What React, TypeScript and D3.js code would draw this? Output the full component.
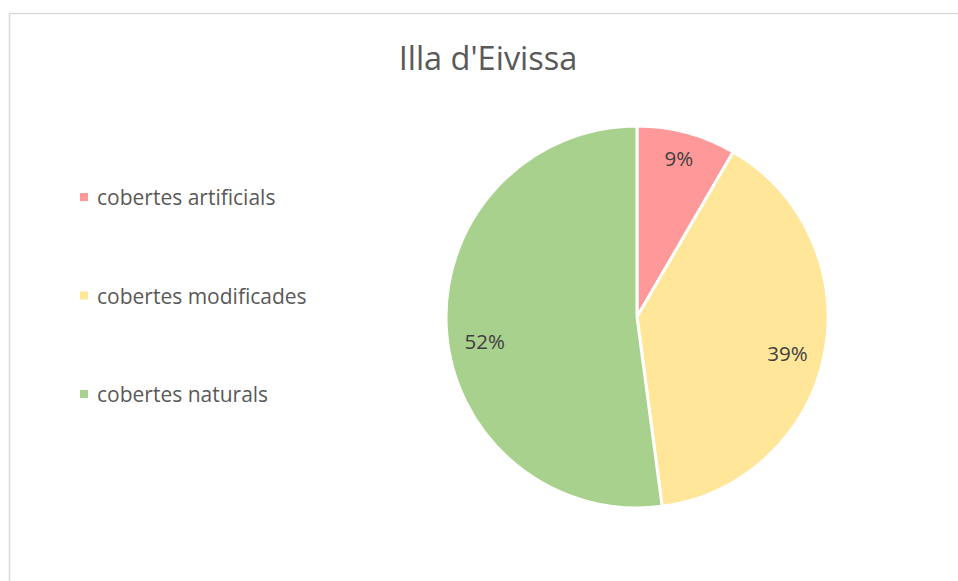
import React from "react";
import * as d3 from "d3";

const categories = ["cobertes artificials", "cobertes modificades", "cobertes naturals"];
const values = [8.4, 39.5, 52.1];
const labels = ["9%", "39%", "52%"];
const colors = ["#ff9999", "#ffe699", "#a9d18e"];
const title = "Illa d'Eivissa";

export default function App() {
  const W = 958, H = 581;
  const cx = 637, cy = 317, r = 191;
  const pie = d3.pie<number>().sort(null).value((d) => d)(values);
  const arc = d3.arc<d3.PieArcDatum<number>>().innerRadius(0).outerRadius(r);
  const labelArc = d3.arc<d3.PieArcDatum<number>>().innerRadius(r * 0.82).outerRadius(r * 0.82);
  const offsets: [number, number][] = [[1, -8], [-3, 5], [4, 14]];
  const font = "'Open Sans', sans-serif";
  const legendY = d3.scalePoint<string>().domain(categories).range([197, 394]);
  return (
    <svg width={W} height={H} style={{ position: "absolute", left: 0, top: 0, background: "#fff" }} fontFamily={font}>
      <rect x={9.5} y={13.5} width={W} height={H} fill="#fff" stroke="#d9d9d9" strokeWidth={1.5} />
      <text x={488} y={70} textAnchor="middle" fontSize={32.5} fill="#595959">{title}</text>
      <g transform={`translate(${cx},${cy})`}>
        {pie.map((p, i) => (
          <path key={i} d={arc(p) || ""} fill={colors[i]} stroke="#fff" strokeWidth={3} strokeLinejoin="round" />
        ))}
        {pie.map((p, i) => {
          const [lx, ly] = labelArc.centroid(p);
          return (
            <text key={i} x={lx + offsets[i][0]} y={ly + offsets[i][1]} textAnchor="middle" dominantBaseline="central" fontSize={20.5} fill="#404040">
              {labels[i]}
            </text>
          );
        })}
      </g>
      {categories.map((c, i) => {
        const y = legendY(c) || 0;
        return (
          <g key={c}>
            <rect x={80} y={y - 4} width={8} height={8} fill={colors[i]} />
            <text x={97} y={y} dominantBaseline="central" fontSize={21} fill="#595959">{c}</text>
          </g>
        );
      })}
    </svg>
  );
}
